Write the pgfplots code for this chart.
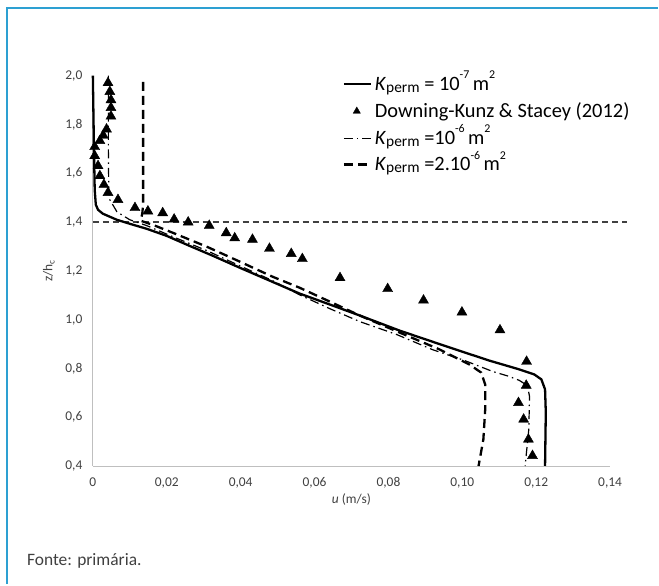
\documentclass[border=0pt]{standalone}
\usepackage{fontspec}
\setmainfont{Carlito}
\usepackage{pgfplots}
\pgfplotsset{compat=1.18}
\definecolor{framecol}{RGB}{45,160,210}
\definecolor{axgray}{RGB}{191,191,191}
\definecolor{txtgray}{RGB}{64,64,64}
\newcommand{\Kp}{\textit{K}\raisebox{-0.12em}{\fontsize{15.5}{15.5}\selectfont perm}}
\newcommand{\sq}[1]{\smash{\raisebox{0.55em}{\fontsize{12}{12}\selectfont #1}}}
\pgfplotsset{
  lineleg/.style={legend image code/.code={\draw[##1] (0bp,0bp) -- (27bp,0bp);}},
  markleg/.style={legend image code/.code={\path[draw=none,fill=none] (0bp,-1bp) rectangle (27bp,1bp); \draw[##1, mark size=4.2bp] plot coordinates {(13bp,0bp)};}},
}
\begin{document}
\begin{tikzpicture}
\path (0bp,0bp) rectangle (659bp,585bp);
\draw[framecol, line width=2bp] (7.5bp,0bp) -- (7.5bp,577bp) -- (659bp,577bp);
\node[anchor=base west, font=\fontsize{17.5}{20}\selectfont, text=txtgray, inner sep=0] at (27bp,18.3bp) {Fonte: primária.};
\begin{axis}[
  at={(93bp,118.3bp)}, anchor=south west,
  scale only axis, width=518bp, height=391bp,
  xmin=0, xmax=0.14, ymin=0.4, ymax=2.0,
  axis lines*=left,
  axis line style={draw=axgray, line width=0.8bp},
  major tick length=0,
  xtick={0,0.02,0.04,0.06,0.08,0.10,0.12,0.14},
  xticklabels={0,{0,02},{0,04},{0,06},{0,08},{0,10},{0,12},{0,14}},
  ytick={0.4,0.6,0.8,1.0,1.2,1.4,1.6,1.8,2.0},
  yticklabels={{0,4},{0,6},{0,8},{1,0},{1,2},{1,4},{1,6},{1,8},{2,0}},
  ticklabel style={font=\fontsize{13.5}{16}\selectfont, text=txtgray},
  xticklabel style={yshift=-8bp},
  yticklabel style={xshift=-7bp},
  xlabel={\textit{u} (m/s)},
  ylabel={z/h\textsubscript{c}},
  label style={font=\fontsize{13.5}{16}\selectfont, text=txtgray},
  xlabel style={at={(axis description cs:0.5,-0.085)}, anchor=center},
  ylabel style={at={(axis description cs:-0.085,0.5)}, anchor=center},
  clip=false,
  legend cell align=left,
  legend style={at={(axis description cs:0.4826,1.000)}, anchor=north west,
    draw=none, fill=none, inner sep=0pt,
    font=\fontsize{20.5}{24}\selectfont, row sep=9.5bp,
    nodes={inner sep=1bp},
    /tikz/every odd column/.append style={column sep=2bp}},
]
% reference line z/hc = 1.4
\addplot[forget plot, black!75, line width=1.3bp, dash pattern=on 6bp off 4bp]
  coordinates {(0,1.4) (0.1446,1.4)};
% Kperm = 1e-7
\addplot[black, line width=2.3bp, line join=round, lineleg]
  coordinates {
  (0.0000,2.000) (0.0003,1.696) (0.0005,1.532) (0.0008,1.471) (0.0014,1.450)
  (0.0027,1.434) (0.0065,1.409) (0.0108,1.389) (0.0146,1.372) (0.0200,1.343)
  (0.0262,1.302) (0.0324,1.262) (0.0397,1.213) (0.0478,1.160) (0.0559,1.107)
  (0.0641,1.062) (0.0722,1.017) (0.0830,0.955) (0.0965,0.886) (0.1073,0.832)
  (0.1154,0.796) (0.1195,0.775) (0.1214,0.755) (0.1224,0.714) (0.1226,0.620)
  (0.1224,0.400)};
\addlegendentry{\Kp{} = 10\sq{-7}\,m\sq{2}}
% Downing-Kunz & Stacey (2012)
\addplot[only marks, mark=triangle*, mark size=5.8bp, black, markleg]
  coordinates {
  (0.0041,1.970) (0.0046,1.934) (0.0049,1.900) (0.0049,1.868) (0.0049,1.833)
  (0.0037,1.780) (0.0028,1.755) (0.0019,1.733) (0.0005,1.708) (0.0005,1.671)
  (0.0014,1.630) (0.0019,1.589) (0.0030,1.553) (0.0041,1.520) (0.0068,1.491)
  (0.0114,1.458) (0.0149,1.444) (0.0189,1.437) (0.0220,1.411) (0.0258,1.399)
  (0.0315,1.385) (0.0361,1.355) (0.0384,1.334) (0.0432,1.328) (0.0478,1.291)
  (0.0537,1.270) (0.0567,1.249) (0.0669,1.171) (0.0798,1.126) (0.0895,1.079)
  (0.0999,1.030) (0.1102,0.957) (0.1174,0.828) (0.1173,0.730) (0.1152,0.659)
  (0.1166,0.591) (0.1179,0.509) (0.1190,0.442)};
\addlegendentry{Downing-Kunz \& Stacey (2012)}
% Kperm = 1e-6
\addplot[black, line width=1.2bp, dash pattern=on 9bp off 4bp on 1.5bp off 4bp, lineleg]
  coordinates {
  (0.0042,2.000) (0.0042,1.696) (0.0043,1.532) (0.0046,1.491) (0.0065,1.442)
  (0.0100,1.409) (0.0146,1.385) (0.0216,1.340) (0.0308,1.283) (0.0397,1.221)
  (0.0486,1.160) (0.0559,1.102) (0.0641,1.045) (0.0722,0.992) (0.0822,0.939)
  (0.0919,0.877) (0.1005,0.833) (0.1081,0.788) (0.1127,0.767) (0.1154,0.751)
  (0.1176,0.730) (0.1182,0.685) (0.1180,0.550) (0.1170,0.400)};
\addlegendentry{\Kp{} =10\sq{-6}\,m\sq{2}}
% Kperm = 2e-6
\addplot[black, line width=2.3bp, dash pattern=on 9bp off 5bp, lineleg]
  coordinates {
  (0.0136,1.974) (0.0136,1.471) (0.0134,1.438) (0.0130,1.405) (0.0168,1.385)
  (0.0216,1.356) (0.0308,1.299) (0.0397,1.238) (0.0486,1.176) (0.0559,1.131)
  (0.0641,1.074) (0.0722,1.017) (0.0830,0.947) (0.0938,0.878) (0.1019,0.816)
  (0.1051,0.783) (0.1062,0.734) (0.1062,0.632) (0.1057,0.509) (0.1044,0.400)};
\addlegendentry{\Kp{} =2.10\sq{-6}\,m\sq{2}}
\end{axis}
\end{tikzpicture}
\end{document}
